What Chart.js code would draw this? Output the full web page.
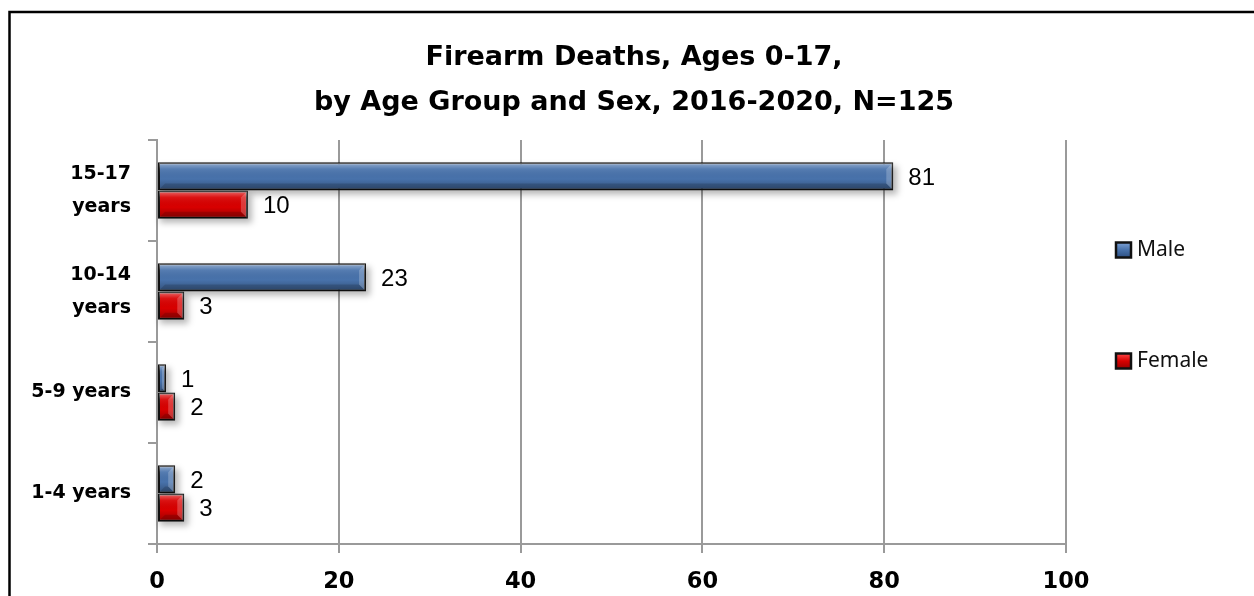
<!DOCTYPE html>
<html>
<head>
<meta charset="utf-8">
<script src="https://cdn.jsdelivr.net/npm/chart.js@4.4.1/dist/chart.umd.min.js"></script>
<style>
  html, body { margin: 0; padding: 0; background: #fff; }
  #wrap { position: relative; width: 1254px; height: 596px; }
</style>
</head>
<body>
<div id="wrap"><canvas id="c" width="1254" height="596"></canvas></div>
<script>
// ---- data ----
const categories = [['15-17', 'years'], ['10-14', 'years'], '5-9 years', '1-4 years'];
const seriesNames = ['Male', 'Female'];
const maleValues = [81, 23, 1, 2];
const femaleValues = [10, 3, 2, 3];
const xTickValues = [0, 20, 40, 60, 80, 100];
const titleLines = ['Firearm Deaths, Ages 0-17,', 'by Age Group and Sex, 2016-2020, N=125'];

// ---- styling ----
const palettes = {
  Male:   { top: '#7ea2d6', mid: '#4872ab', bottom: '#2c4f82' },
  Female: { top: '#ff4a4a', mid: '#d80000', bottom: '#9a0000' }
};
const catPct = 0.56;
const BOLD = '"DejaVu Sans", "Noto Sans", sans-serif';

function barRect(el) {
  const p = el.getProps(['x', 'y', 'base', 'height'], true);
  const left = Math.min(p.x, p.base), right = Math.max(p.x, p.base);
  return { left, right, top: p.y - p.height / 2, bottom: p.y + p.height / 2 };
}

const framePlugin = {
  id: 'frame',
  beforeDraw(chart) {
    const c = chart.ctx;
    c.save();
    c.fillStyle = '#fff';
    c.fillRect(0, 0, chart.width, chart.height);
    c.strokeStyle = '#000';
    c.lineWidth = 2.5;
    c.beginPath();
    c.moveTo(9.5, chart.height + 5);
    c.lineTo(9.5, 12);
    c.lineTo(chart.width + 5, 12);
    c.stroke();
    c.restore();
  }
};

// soft drop shadows under each bar
const shadowPlugin = {
  id: 'barShadow',
  beforeDatasetsDraw(chart) {
    const c = chart.ctx;
    c.save();
    c.filter = 'blur(3px)';
    c.fillStyle = 'rgba(0,0,0,0.28)';
    chart.data.datasets.forEach((ds, di) => {
      chart.getDatasetMeta(di).data.forEach(el => {
        const r = barRect(el);
        c.fillRect(r.left + 2, r.top + 4, r.right - r.left + 2, r.bottom - r.top);
      });
    });
    c.restore();
  }
};

// bevel / gloss overlay on each bar
const bevelPlugin = {
  id: 'bevel',
  afterDatasetDraw(chart, args) {
    const c = chart.ctx;
    const meta = args.meta;
    c.save();
    meta.data.forEach(el => {
      const r = barRect(el);
      const l = r.left + 1, rt = r.right - 1, t = r.top + 1, b = r.bottom - 1;
      if (rt - l <= 0) return;
      const g = c.createLinearGradient(0, t, 0, b);
      g.addColorStop(0, 'rgba(255,255,255,0.40)');
      g.addColorStop(0.22, 'rgba(255,255,255,0.08)');
      g.addColorStop(0.6, 'rgba(0,0,0,0)');
      g.addColorStop(1, 'rgba(0,0,0,0.28)');
      c.fillStyle = g;
      c.fillRect(l, t, rt - l, b - t);
      const bw = Math.min(6, (rt - l) / 2);
      c.fillStyle = 'rgba(255,255,255,0.22)';
      c.beginPath();
      c.moveTo(rt - bw, t + bw); c.lineTo(rt, t); c.lineTo(rt, b); c.lineTo(rt - bw, b - bw); c.closePath();
      c.fill();
      c.fillStyle = 'rgba(0,0,0,0.15)';
      c.beginPath();
      c.moveTo(l, b); c.lineTo(rt, b); c.lineTo(rt - bw, b - bw); c.lineTo(l + bw, b - bw); c.closePath();
      c.fill();
    });
    c.restore();
  }
};

const valueLabelPlugin = {
  id: 'valueLabels',
  afterDatasetsDraw(chart) {
    const c = chart.ctx;
    c.save();
    c.fillStyle = '#000';
    c.font = '24px "Liberation Sans", Arial, sans-serif';
    c.textAlign = 'left';
    c.textBaseline = 'middle';
    chart.data.datasets.forEach((ds, di) => {
      const meta = chart.getDatasetMeta(di);
      meta.data.forEach((el, i) => {
        c.fillText(String(ds.data[i]), el.x + 15, el.y + 2);
      });
    });
    c.restore();
  }
};

const sideLegendPlugin = {
  id: 'sideLegend',
  afterDraw(chart) {
    const c = chart.ctx;
    const ca = chart.chartArea;
    const x = ca.right + 50;
    const ys = [250, 361];
    c.save();
    chart.data.datasets.forEach((ds, i) => {
      const p = palettes[ds.label];
      const y = ys[i];
      const s = 15;
      const g = c.createLinearGradient(0, y - s / 2, 0, y + s / 2);
      g.addColorStop(0, p.top);
      g.addColorStop(0.5, p.mid);
      g.addColorStop(1, p.bottom);
      c.fillStyle = g;
      c.fillRect(x, y - s / 2, s, s);
      c.strokeStyle = '#111';
      c.lineWidth = 2.5;
      c.strokeRect(x, y - s / 2, s, s);
      c.fillStyle = '#111';
      c.font = '21px "Noto Sans", Lato, sans-serif';
      c.textAlign = 'left';
      c.textBaseline = 'middle';
      c.fillText(ds.label, x + 21, y);
    });
    c.restore();
  }
};

new Chart(document.getElementById('c'), {
  type: 'bar',
  data: {
    labels: categories,
    datasets: [
      { label: seriesNames[0], data: maleValues, backgroundColor: palettes.Male.mid },
      { label: seriesNames[1], data: femaleValues, backgroundColor: palettes.Female.mid }
    ]
  },
  options: {
    indexAxis: 'y',
    responsive: false,
    animation: false,
    devicePixelRatio: 1,
    layout: { padding: { left: 14, right: 0, top: 0, bottom: 0 } },
    datasets: {
      bar: {
        categoryPercentage: catPct,
        barPercentage: 1,
        borderColor: '#111',
        borderWidth: 2,
        borderSkipped: false
      }
    },
    plugins: {
      legend: { display: false },
      tooltip: { enabled: false },
      title: {
        display: true,
        text: titleLines,
        color: '#000',
        font: { family: BOLD, size: 27, weight: 'bold', lineHeight: 45 / 27 },
        padding: { top: 35, bottom: 15 }
      }
    },
    scales: {
      x: {
        min: 0,
        max: 100,
        afterBuildTicks(scale) { scale.ticks = xTickValues.map(v => ({ value: v })); },
        afterFit(scale) { scale.height = 52; },
        grid: { color: '#9a9a9a', lineWidth: 2, tickLength: 9, drawTicks: true },
        border: { display: true, color: '#9a9a9a', width: 2 },
        ticks: {
          color: '#000',
          padding: 16,
          font: { family: BOLD, size: 22.5, weight: 'bold' }
        }
      },
      y: {
        afterFit(scale) { scale.width = 143; },
        grid: { drawOnChartArea: false, color: '#9a9a9a', lineWidth: 2, tickLength: 9, offset: true },
        border: { display: true, color: '#9a9a9a', width: 2 },
        ticks: {
          color: '#000',
          padding: 17,
          font: { family: BOLD, size: 19, weight: 'bold', lineHeight: 33 / 19 }
        }
      },
      legendSpace: {
        type: 'linear',
        axis: 'y',
        position: 'right',
        display: true,
        afterFit(scale) { scale.width = 188; },
        grid: { display: false, drawTicks: false },
        border: { display: false },
        ticks: { display: false }
      }
    }
  },
  plugins: [framePlugin, shadowPlugin, bevelPlugin, valueLabelPlugin, sideLegendPlugin]
});
</script>
</body>
</html>
